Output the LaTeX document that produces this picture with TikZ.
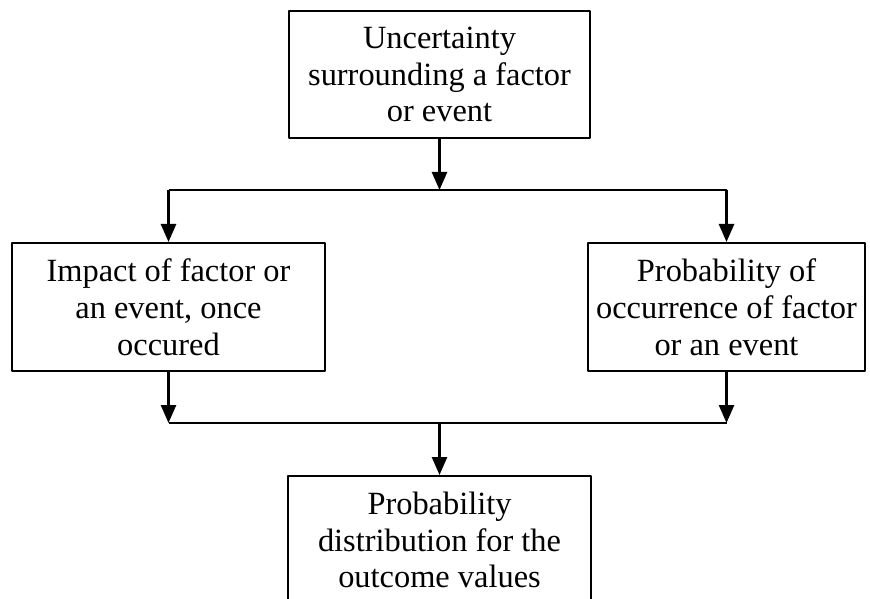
\documentclass[tikz,border=0pt]{standalone}
\usepackage{fontspec}
\setmainfont{Liberation Serif}
\usetikzlibrary{arrows.meta}

\begin{document}
\begin{tikzpicture}[
        x = 0.5pt, y = -0.5pt,
        line join=round,
        box/.style = {draw, line width=1pt, align=center, inner sep=0pt,
            font=\fontsize{16.2}{18.4}\selectfont},
        arr/.style = {line width=1.3pt, -{Triangle[width=7.5pt, length=9pt]}}
    ]

    \useasboundingbox (0,0) rectangle (870,598);

    \node[box, minimum width=150.5pt, minimum height=63.5pt] (unc) at (439.5,74.5)
        {Uncertainty\\surrounding a factor\\or event};
    \node[box, minimum width=156.5pt, minimum height=64pt] (imp) at (168.5,307)
        {Impact of factor or\\an event, once\\occured};
    \node[box, minimum width=138.5pt, minimum height=64pt] (prob) at (726.5,307)
        {Probability of\\occurrence of factor\\or an event};
    \node[box, minimum width=151.5pt, minimum height=64pt, anchor=north] (dist) at (439.5,475)
        {Probability\\distribution for the\\outcome values};

        \coordinate (tbus) at (0,190);
        \coordinate (bbus) at (0,423);

    \draw[arr] (unc.south) -- (unc.south |- tbus);
    \draw[line width=1pt] (imp.north |- tbus) -- (prob.north |- tbus);
    \draw[arr] (imp.north |- tbus) -- (imp.north);
    \draw[arr] (prob.north |- tbus) -- (prob.north);

    \draw[arr] (imp.south) -- (imp.south |- bbus);
    \draw[arr] (prob.south) -- (prob.south |- bbus);
    \draw[line width=1pt] (imp.south |- bbus) -- (prob.south |- bbus);
    \draw[arr] (dist.north |- bbus) -- (dist.north);

\end{tikzpicture}
\end{document}
